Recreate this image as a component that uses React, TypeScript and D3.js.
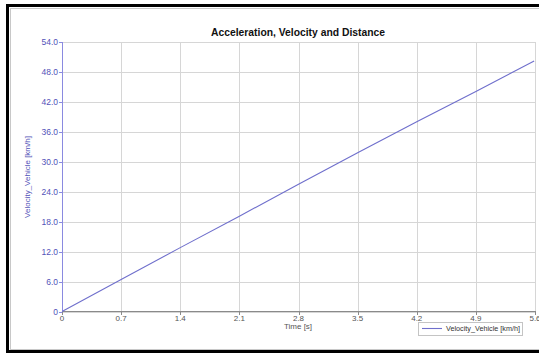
import React from "react";
import * as d3 from "d3";

const timeTicks = [0, 0.7, 1.4, 2.1, 2.8, 3.5, 4.2, 4.9, 5.6];
const timeTickLabels = ["0", "0.7", "1.4", "2.1", "2.8", "3.5", "4.2", "4.9", "5.6"];
const velTicks = [0, 6, 12, 18, 24, 30, 36, 42, 48, 54];
const velTickLabels = ["0", "6.0", "12.0", "18.0", "24.0", "30.0", "36.0", "42.0", "48.0", "54.0"];
const timeData = [0, 0.7, 1.4, 2.1, 2.8, 3.5, 4.2, 4.9, 5.59];
const velocityData = [0, 6.4, 12.8, 19.1, 25.5, 31.8, 38.0, 44.1, 50.2];
const title = "Acceleration, Velocity and Distance";
const seriesName = "Velocity_Vehicle [km/h]";
const xTitle = "Time [s]";

export default function App() {
  const W = 539, H = 354;
  const x = d3.scaleLinear().domain([0, 5.6]).range([62, 535]);
  const y = d3.scaleLinear().domain([0, 54]).range([311.5, 42]);
  const line = d3.line<number>().x((_, i) => x(timeData[i])).y((d) => y(d));
  const font = "'Liberation Sans', Arial, sans-serif";
  const blue = "#5252b8";
  return (
    <svg width={W} height={H} style={{ position: "absolute", left: 0, top: 0 }} fontFamily={font}>
      <rect x={0} y={0} width={W} height={H} fill="#fff" />
      <rect x={7.5} y={5.5} width={W + 10} height={346} fill="none" stroke="#000" strokeWidth={3} />
      <rect x={10.5} y={8.5} width={W} height={341} fill="none" stroke="#c8c8c8" strokeWidth={1} />
      <text x={298} y={36} textAnchor="middle" fontWeight="bold" fontSize={10.5} fill="#111"
        textLength={174} lengthAdjust="spacingAndGlyphs">{title}</text>
      {velTicks.map((v) => (
        <line key={"h" + v} x1={62} x2={535} y1={Math.round(y(v)) + 0.5} y2={Math.round(y(v)) + 0.5} stroke="#d6d6d6" />
      ))}
      {timeTicks.map((t) => (
        <line key={"v" + t} x1={Math.round(x(t)) + 0.5} x2={Math.round(x(t)) + 0.5} y1={42} y2={311} stroke="#d6d6d6" />
      ))}
      <line x1={62} x2={536} y1={311.5} y2={311.5} stroke="#8a8a8a" />
      {timeTicks.map((t, i) => (
        <g key={"xt" + t}>
          <line x1={Math.round(x(t)) + 0.5} x2={Math.round(x(t)) + 0.5} y1={311} y2={315} stroke="#8a8a8a" />
          <text x={x(t)} y={321} textAnchor="middle" fontSize={8} fill="#555">{timeTickLabels[i]}</text>
        </g>
      ))}
      <text x={298} y={329} textAnchor="middle" fontSize={8} fill="#555">{xTitle}</text>
      <line x1={62.5} x2={62.5} y1={42} y2={312} stroke="#8a8ae0" />
      {velTicks.map((v, i) => (
        <g key={"yt" + v}>
          <line x1={59} x2={62} y1={Math.round(y(v)) + 0.5} y2={Math.round(y(v)) + 0.5} stroke="#8a8ae0" />
          <text x={58} y={y(v) + 3} textAnchor="end" fontSize={8.5} fill={blue}>{velTickLabels[i]}</text>
        </g>
      ))}
      <text transform="translate(30,177) rotate(-90)" textAnchor="middle" fontSize={8} fill={blue}>{seriesName}</text>
      <path d={line(velocityData) || ""} fill="none" stroke="#6f6fcc" strokeWidth={1.1} />
      <rect x={418.5} y={322.5} width={104} height={13} fill="#fff" stroke="#c4c4c4" />
      <line x1={422} x2={442} y1={328.5} y2={328.5} stroke="#6f6fcc" strokeWidth={1.1} />
      <text x={446} y={331} fontSize={7} fill="#333" textLength={74} lengthAdjust="spacingAndGlyphs">{seriesName}</text>
    </svg>
  );
}
